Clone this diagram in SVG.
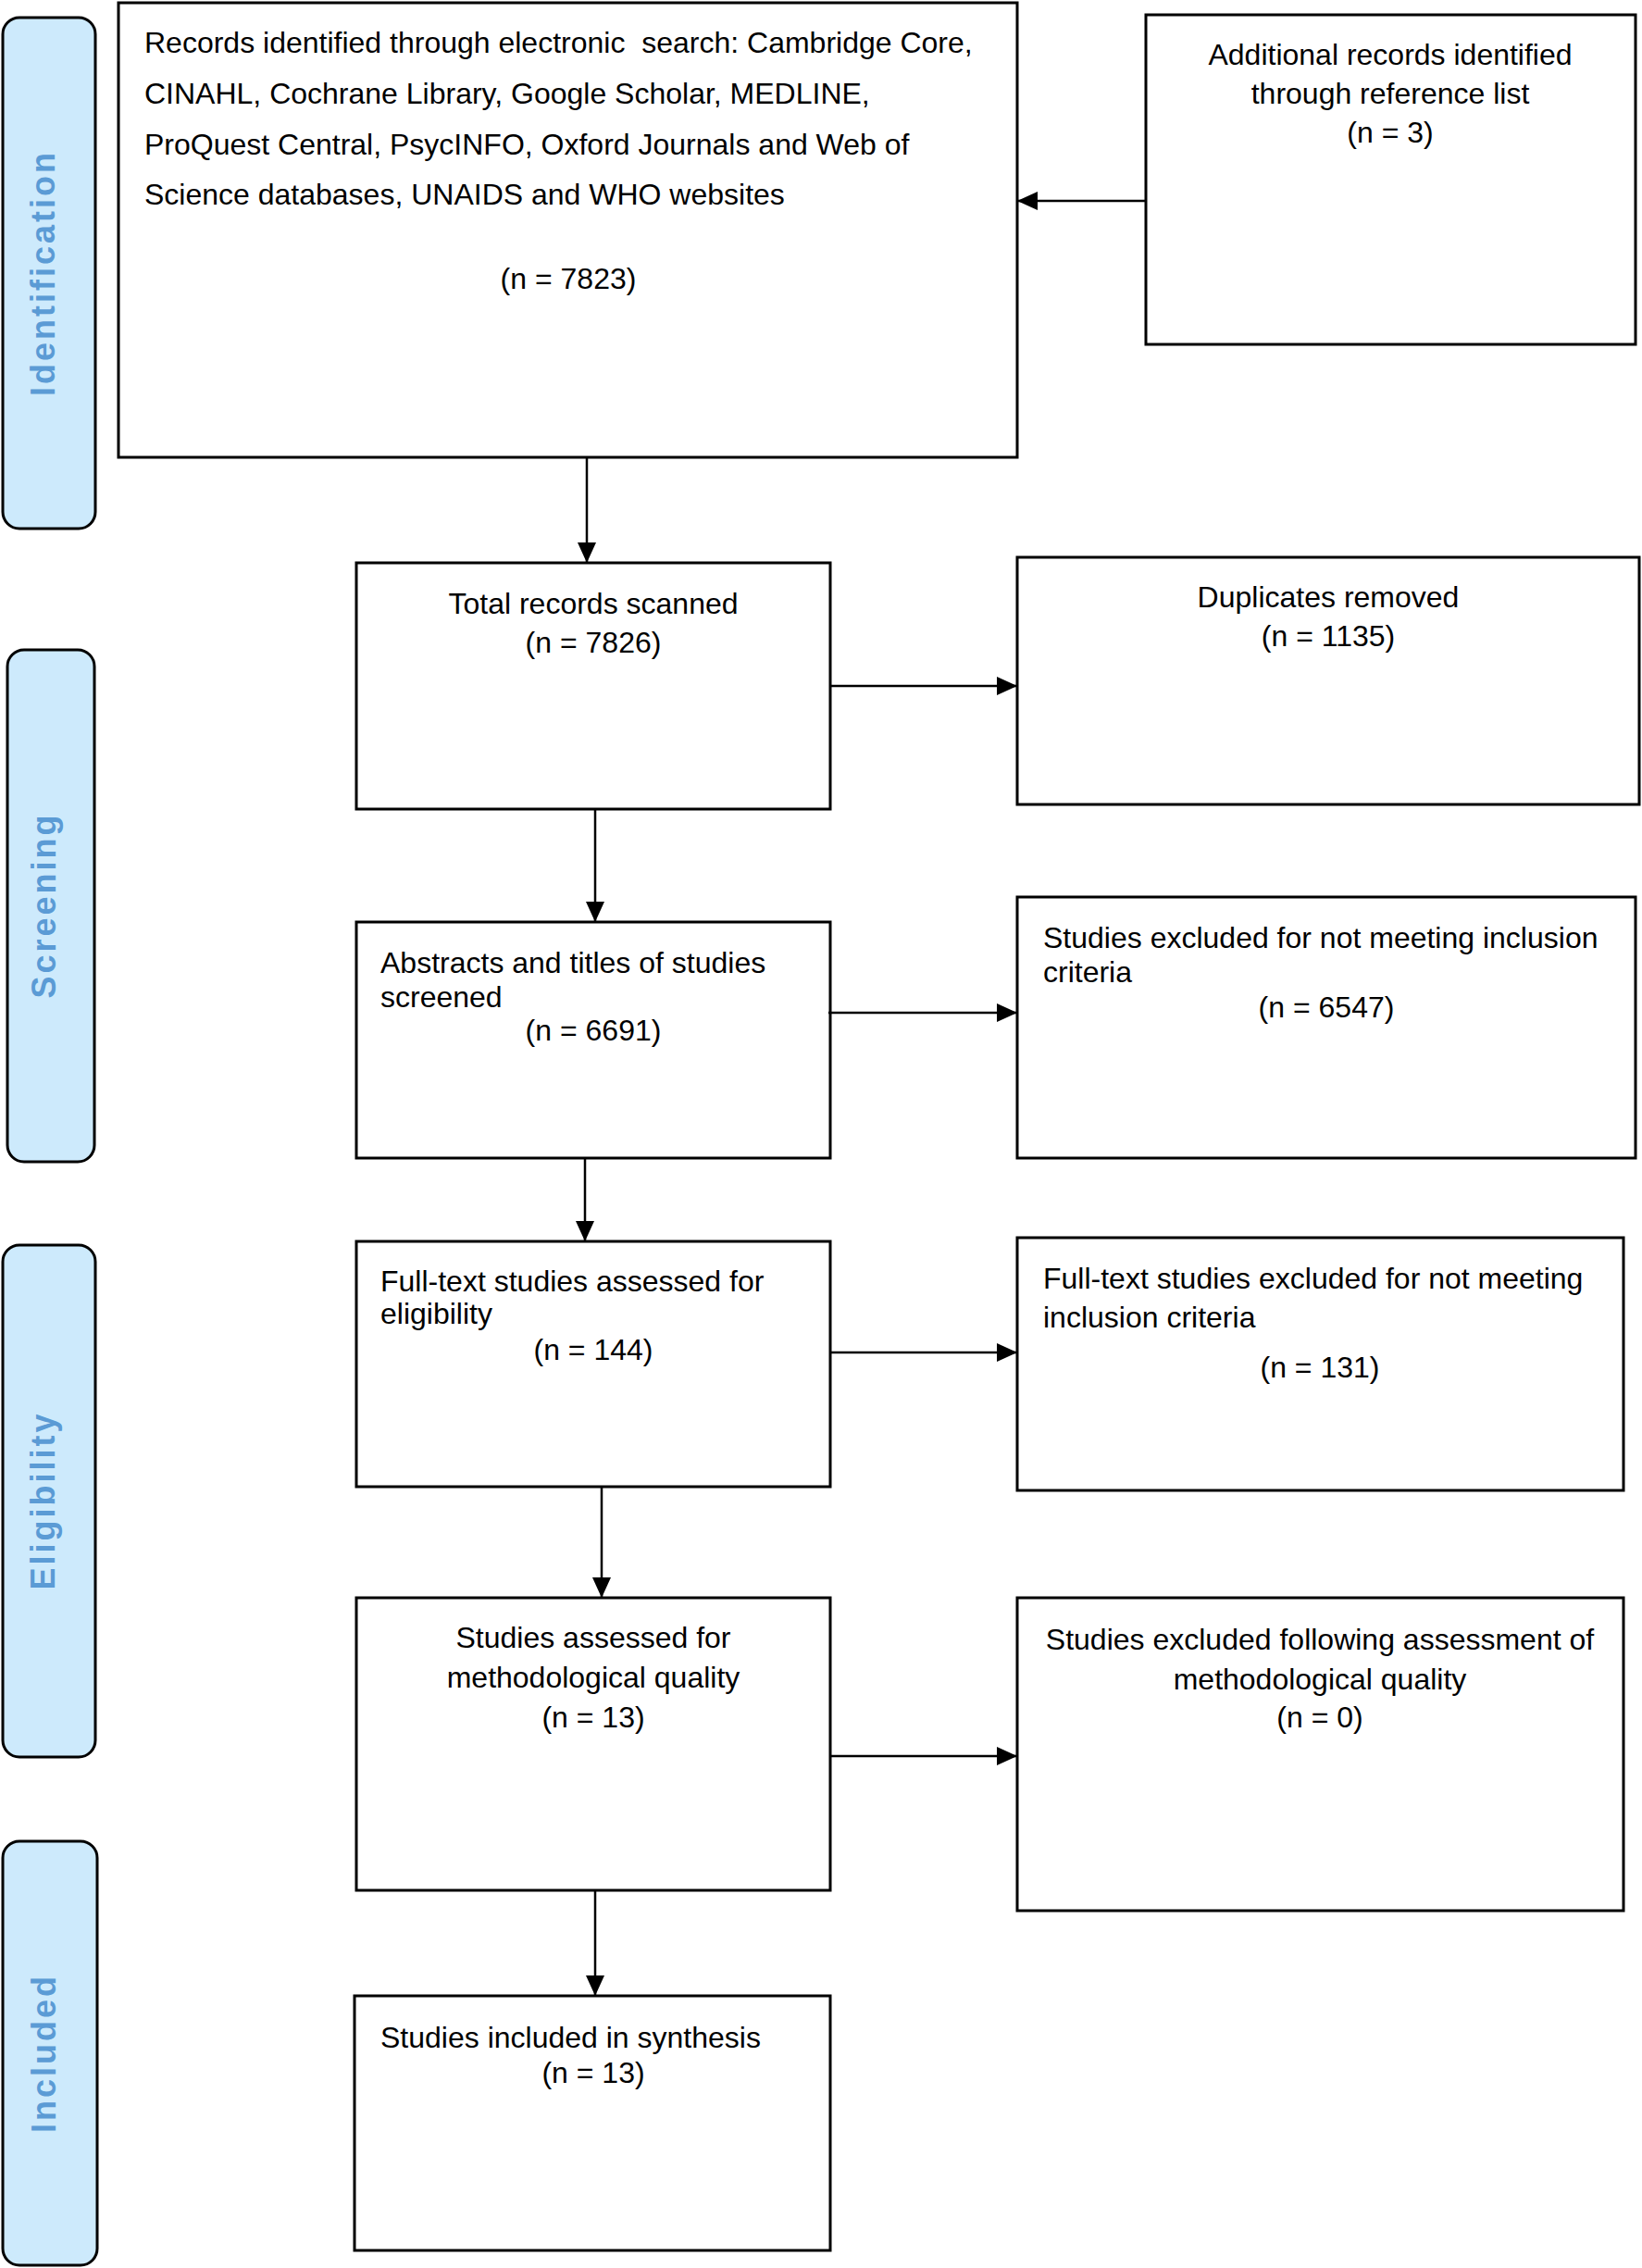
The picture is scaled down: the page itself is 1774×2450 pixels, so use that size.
<svg xmlns="http://www.w3.org/2000/svg" width="1774" height="2450" viewBox="0 0 1774 2450">
<defs>
<marker id="ah" markerUnits="userSpaceOnUse" markerWidth="22" markerHeight="20" refX="22" refY="10" orient="auto">
<path d="M0,0 L22,10 L0,20 z" fill="#000"/>
</marker>
<style>
.box{fill:#fff;stroke:#000;stroke-width:3}
.lab{fill:#cdeafc;stroke:#000;stroke-width:3}
.t{font-family:"Liberation Sans",Arial,sans-serif;font-size:32px;fill:#000;white-space:pre}
.c{text-anchor:middle}
.lt{font-family:"Liberation Sans",Arial,sans-serif;font-size:36px;font-weight:bold;fill:#5b9bd5;text-anchor:middle;letter-spacing:3px}
.con{stroke:#000;stroke-width:2.5;fill:none;marker-end:url(#ah)}
</style>
</defs>
<rect width="1774" height="2450" fill="#fff"/>

<g id="label-identification">
<rect class="lab" x="3" y="19" width="100" height="552" rx="18"/>
<text class="lt" transform="translate(59,295) rotate(-90)">Identification</text>
</g>
<g id="label-screening">
<rect class="lab" x="8" y="702" width="94" height="553" rx="18"/>
<text class="lt" transform="translate(60,978) rotate(-90)">Screening</text>
</g>
<g id="label-eligibility">
<rect class="lab" x="3" y="1345" width="100" height="553" rx="18"/>
<text class="lt" transform="translate(59,1621) rotate(-90)">Eligibility</text>
</g>
<g id="label-included">
<rect class="lab" x="3" y="1989" width="102" height="458" rx="18"/>
<text class="lt" transform="translate(60,2218) rotate(-90)">Included</text>
</g>

<g id="records-identified">
<rect class="box" x="128" y="3" width="971" height="491"/>
<text class="t" x="156" y="57" xml:space="preserve">Records identified through electronic  search: Cambridge Core,</text>
<text class="t" x="156" y="112">CINAHL, Cochrane Library, Google Scholar, MEDLINE,</text>
<text class="t" x="156" y="167">ProQuest Central, PsycINFO, Oxford Journals and Web of</text>
<text class="t" x="156" y="221">Science databases, UNAIDS and WHO websites</text>
<text class="t c" x="614" y="312">(n = 7823)</text>
</g>
<g id="additional-records">
<rect class="box" x="1238" y="16" width="529" height="356"/>
<text class="t c" x="1502" y="70">Additional records identified</text>
<text class="t c" x="1502" y="112">through reference list</text>
<text class="t c" x="1502" y="154">(n = 3)</text>
</g>
<g id="total-records">
<rect class="box" x="385" y="608" width="512" height="266"/>
<text class="t c" x="641" y="663">Total records scanned</text>
<text class="t c" x="641" y="705">(n = 7826)</text>
</g>
<g id="duplicates">
<rect class="box" x="1099" y="602" width="672" height="267"/>
<text class="t c" x="1435" y="656">Duplicates removed</text>
<text class="t c" x="1435" y="698">(n = 1135)</text>
</g>
<g id="abstracts">
<rect class="box" x="385" y="996" width="512" height="255"/>
<text class="t" x="411" y="1051">Abstracts and titles of studies</text>
<text class="t" x="411" y="1088">screened</text>
<text class="t c" x="641" y="1124">(n = 6691)</text>
</g>
<g id="excluded-screening">
<rect class="box" x="1099" y="969" width="668" height="282"/>
<text class="t" x="1127" y="1024">Studies excluded for not meeting inclusion</text>
<text class="t" x="1127" y="1061">criteria</text>
<text class="t c" x="1433" y="1099">(n = 6547)</text>
</g>
<g id="fulltext">
<rect class="box" x="385" y="1341" width="512" height="265"/>
<text class="t" x="411" y="1395">Full-text studies assessed for</text>
<text class="t" x="411" y="1430">eligibility</text>
<text class="t c" x="641" y="1469">(n = 144)</text>
</g>
<g id="fulltext-excluded">
<rect class="box" x="1099" y="1337" width="655" height="273"/>
<text class="t" x="1127" y="1392">Full-text studies excluded for not meeting</text>
<text class="t" x="1127" y="1434">inclusion criteria</text>
<text class="t c" x="1426" y="1488">(n = 131)</text>
</g>
<g id="quality-assessed">
<rect class="box" x="385" y="1726" width="512" height="316"/>
<text class="t c" x="641" y="1780">Studies assessed for</text>
<text class="t c" x="641" y="1823">methodological quality</text>
<text class="t c" x="641" y="1866">(n = 13)</text>
</g>
<g id="quality-excluded">
<rect class="box" x="1099" y="1726" width="655" height="338"/>
<text class="t c" x="1426" y="1782">Studies excluded following assessment of</text>
<text class="t c" x="1426" y="1825">methodological quality</text>
<text class="t c" x="1426" y="1866">(n = 0)</text>
</g>
<g id="included">
<rect class="box" x="383" y="2156" width="514" height="275"/>
<text class="t" x="411" y="2212">Studies included in synthesis</text>
<text class="t c" x="641" y="2250">(n = 13)</text>
</g>

<g id="connectors">
<line class="con" x1="1238" y1="217" x2="1099" y2="217"/>
<line class="con" x1="634" y1="494" x2="634" y2="608"/>
<line class="con" x1="897" y1="741" x2="1099" y2="741"/>
<line class="con" x1="643" y1="874" x2="643" y2="996"/>
<line class="con" x1="895" y1="1094" x2="1099" y2="1094"/>
<line class="con" x1="632" y1="1251" x2="632" y2="1341"/>
<line class="con" x1="897" y1="1461" x2="1099" y2="1461"/>
<line class="con" x1="650" y1="1606" x2="650" y2="1726"/>
<line class="con" x1="897" y1="1897" x2="1099" y2="1897"/>
<line class="con" x1="643" y1="2042" x2="643" y2="2156"/>
</g>
</svg>
